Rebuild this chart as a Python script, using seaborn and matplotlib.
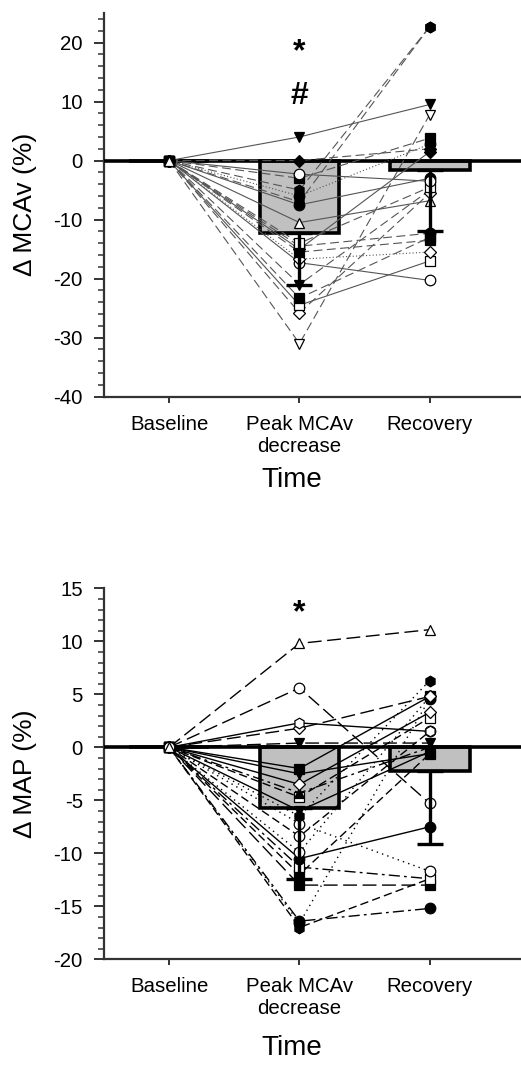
import numpy as np
import pandas as pd
import matplotlib
matplotlib.use("Agg")
import matplotlib.pyplot as plt
import seaborn as sns
from matplotlib.ticker import MultipleLocator

# ---------------- data ----------------
categories = ["Baseline", "Peak MCAv\ndecrease", "Recovery"]

mcav_mean = [0.0, -12.2, -1.6]
mcav_sd = [0.0, 8.9, 10.4]
map_mean = [0.0, -5.7, -2.24]
map_sd = [0.0, 6.75, 6.86]

# individual subjects, % change at peak MCAv decrease and at recovery (baseline = 0)
mcav_peak = [-10.5, 4.0, 0.0, -2.3, -3.0, -5.0, -6.0, -7.0, -7.5, -14.0, -14.5,
             -15.0, -15.5, -16.7, -17.3, -21.0, -23.3, -24.5, -25.8, -31.0]
mcav_recovery = [-6.8, 9.5, 2.0, -3.5, 3.8, 22.7, 2.8, 22.7, -3.0, -4.5, -12.3,
                 1.5, -13.5, -15.5, -20.3, -5.0, -13.0, -17.0, -5.5, 7.8]

map_peak = [9.8, 5.6, 2.3, 1.8, 0.4, -2.0, -2.5, -3.5, -4.3, -4.7, -6.0,
            -6.5, -7.2, -8.4, -9.9, -10.5, -11.3, -12.0, -13.0, -16.4, -17.0, -16.6]
map_recovery = [11.1, -5.3, 1.5, 4.8, 0.4, 4.8, -0.6, 3.3, 0.0, 2.8, -0.4,
                6.3, -11.7, 1.5, 4.8, -7.5, -12.4, -0.6, -13.0, -15.2, -12.4, 4.6]

# ---------------- styles ----------------
mcav_markers = ['^', 'v', 'D', 'o', 's', 'h', 'o', 'h', 'o', 's', 'o',
                'D', 's', 'D', 'o', 'v', 's', 's', 'D', 'v']
mcav_filled = [0, 1, 1, 0, 1, 1, 1, 1, 1, 0, 1, 1, 1, 0, 0, 1, 1, 0, 0, 0]
mcav_styles = ['-', '-', (0, (8, 4)), '-', (0, (8, 4)), (0, (8, 4)), (0, (1, 2)), (0, (8, 4)),
               '-', (0, (8, 4)), (0, (8, 4)), '-', (0, (8, 4)), (0, (1, 2)), '-',
               (0, (8, 4)), (0, (8, 4)), '-', (0, (8, 4)), (0, (8, 4))]

map_markers = ['^', 'o', 'h', 'D', 'v', 's', 'v', 'D', '^', 's', 'v',
               'h', 'o', 'o', 'o', 'o', 's', 's', 's', 'o', 'h', 'o']
map_filled = [0, 0, 0, 0, 1, 1, 1, 0, 1, 0, 1, 1, 0, 0, 0, 1, 0, 1, 1, 1, 1, 1]
map_styles = [(0, (10, 4)), (0, (10, 4)), '-', (0, (10, 4)), (0, (10, 4)), '-', '-',
              '-', (0, (8, 3, 2, 3)), (0, (6, 3)), '-', (0, (1, 3)), (0, (1, 3)),
              (0, (6, 3)), (0, (1, 3)), '-', (0, (8, 3, 2, 3)), (0, (6, 3)),
              (0, (10, 4)), (0, (8, 3, 2, 3)), (0, (6, 3)), (0, (1, 3))]

sns.set_style("ticks")
plt.rcParams['font.family'] = ['Liberation Sans', 'DejaVu Sans']
plt.rcParams['axes.unicode_minus'] = False
plt.rcParams['text.color'] = 'black'
plt.rcParams['axes.labelcolor'] = 'black'
plt.rcParams['xtick.color'] = 'black'
plt.rcParams['ytick.color'] = 'black'

W, H = 521, 1081
fig = plt.figure(figsize=(W / 100, H / 100), dpi=100)
ax1 = fig.add_axes([104 / W, 1 - 396.7 / H, (W - 104) / W, (396.7 - 13) / H])
ax2 = fig.add_axes([104 / W, 1 - 959.3 / H, (W - 104) / W, 371 / H])


def panel(ax, means, sds, peak, rec, markers, filled, styles, lcolor, lw,
          ylim, major, minor, ylabel, xlab_y, marks):
    df = pd.DataFrame({"time": categories, "value": means})
    sns.barplot(data=df, x="time", y="value", order=categories, color="#c0c0c0",
                saturation=1, edgecolor="black", linewidth=2.6, width=0.61,
                errorbar=None, ax=ax, zorder=2)
    ax.axhline(0, color="black", lw=2.6, zorder=3)
    for i in reversed(range(len(peak))):
        ax.plot([0, 1, 2], [0.0, peak[i], rec[i]], color=lcolor, lw=lw,
                ls=styles[i], zorder=4)
    for i in reversed(range(len(peak))):
        ax.plot([0, 1, 2], [0.0, peak[i], rec[i]], ls='none', marker=markers[i],
                ms=7.6 if markers[i] != 'D' else 6.5,
                mfc="black" if filled[i] else "white", mec="black", mew=0.9,
                zorder=5)
    ax.errorbar([1, 2], means[1:], yerr=[sds[1:], [0, 0]], fmt="none",
                ecolor="black", elinewidth=2.4, capsize=9.6, capthick=2.4,
                zorder=6)
    for txt, yv in marks:
        ax.text(1, yv, txt, ha="center", va="center", fontsize=23,
                fontweight="bold", zorder=7)

    ax.set_xlim(-0.5, 2.7)
    ax.set_ylim(*ylim)
    ax.set_xticks([0, 1, 2])
    ax.set_xticklabels(categories)
    ax.yaxis.set_major_locator(MultipleLocator(major))
    ax.yaxis.set_minor_locator(MultipleLocator(minor))
    ax.tick_params(axis="y", which="major", length=7.3, width=1.4,
                   labelsize=14.7, pad=8, color="#333333", labelcolor="black")
    ax.tick_params(axis="y", which="minor", length=4.2, width=1.1, color="#333333")
    ax.tick_params(axis="x", which="major", length=4, width=1.4,
                   labelsize=14.7, pad=9, color="#333333", labelcolor="black")
    ax.tick_params(axis="x", which="minor", length=0)
    for s in ["top", "right"]:
        ax.spines[s].set_visible(False)
    for s in ["left", "bottom"]:
        ax.spines[s].set_linewidth(1.6)
        ax.spines[s].set_color("#333333")
    ax.set_ylabel(ylabel, fontsize=19, color="black")
    ax.yaxis.set_label_coords(-0.16, 0.5)
    ax.set_xlabel("Time", fontsize=20, color="black")
    ax.xaxis.set_label_coords(0.451, xlab_y)


panel(ax1, mcav_mean, mcav_sd, mcav_peak, mcav_recovery, mcav_markers,
      mcav_filled, mcav_styles, "#555555", 0.8, (-40, 25), 10, 2,
      "Δ MCAv (%)", -0.182, [("*", 18.3), ("#", 11.0)])
panel(ax2, map_mean, map_sd, map_peak, map_recovery, map_markers,
      map_filled, map_styles, "black", 1.0, (-20, 15), 5, 1,
      "Δ MAP (%)", -0.205, [("*", 12.6)])

fig.savefig("out.png", dpi=100)
